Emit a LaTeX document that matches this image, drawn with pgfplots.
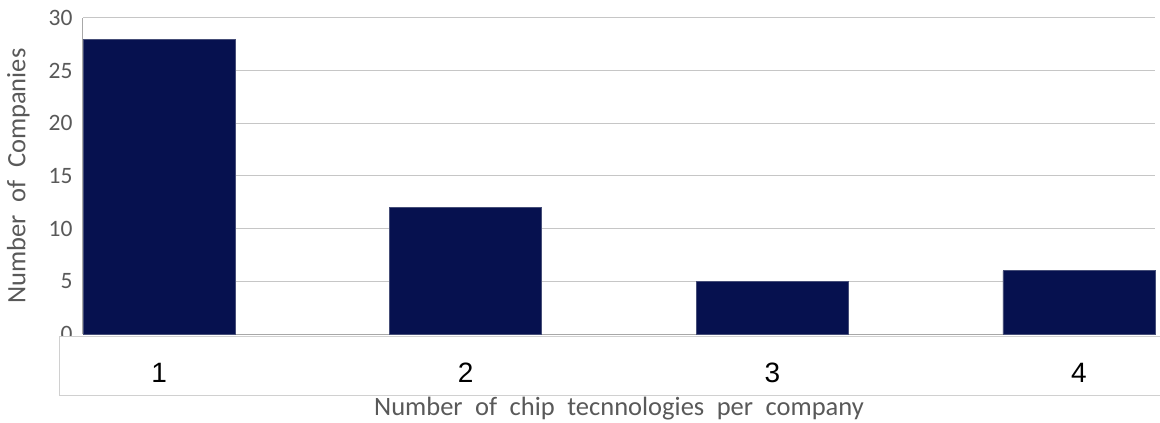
\documentclass[border=0pt]{standalone}
\usepackage{pgfplots}
\pgfplotsset{compat=1.18}
\usepackage{fontspec}
\setmainfont{Carlito}
\newfontfamily\arialfont{Liberation Sans}

\definecolor{barnavy}{HTML}{06114F}
\definecolor{baredge}{HTML}{464E78}
\definecolor{gridgray}{HTML}{C6C6C6}
\definecolor{axisgray}{HTML}{A8A8A8}
\definecolor{textgray}{HTML}{595959}
\definecolor{boxgray}{HTML}{D0D0D0}

% wide word spacing used in the axis titles
\newcommand\widewords[1]{{\spaceskip=12.5pt\relax #1}}

\begin{document}
\begin{tikzpicture}
% page extent
\path[use as bounding box] (-83pt,-89pt) rectangle (1077pt,334pt);
% framed band that holds the category labels
\fill[white] (-23pt,-3pt) rectangle (1090pt,-62pt);
\begin{axis}[
  scale only axis,
  width=1072pt, height=316pt,
  xmin=0.752, xmax=4.248,
  ymin=0, ymax=30,
  ybar, bar width=152pt,
  xtick={1,2,3,4},
  ytick={0,5,...,30},
  /pgf/number format/assume math mode=true,
  axis x line*=bottom,
  axis y line*=left,
  axis line style={axisgray, line width=1pt},
  major tick length=0pt,
  ymajorgrids,
  grid style={gridgray, line width=1pt},
  xticklabel style={font=\arialfont\fontsize{28}{28}\selectfont, text=black,
                    anchor=center, yshift=-38.7pt},
  yticklabel style={font=\fontsize{23.5}{23.5}\selectfont, text=textgray,
                    anchor=east, xshift=-7pt},
  xlabel={\widewords{Number of chip tecnnologies per company}},
  ylabel={\widewords{Number of Companies}},
  xlabel style={font=\fontsize{26.5}{26.5}\selectfont, text=textgray,
                at={([yshift=-81pt]axis description cs:0.5,0)}, anchor=base},
  ylabel style={font=\fontsize{26.5}{26.5}\selectfont, text=textgray,
                at={([xshift=-57.5pt]axis description cs:0,0.5)}, anchor=base, rotate=0},
  clip=false,
]
\addplot[fill=barnavy, draw=baredge, line width=0.8pt] coordinates {
  (1,28) (2,12) (3,5) (4,6)
};
\end{axis}
% the label band sits in front of the lower half of the zero label
\fill[white] (-22pt,-3.5pt) rectangle (-3pt,-20pt);
\draw[boxgray, line width=1pt] (-23pt,-3pt) rectangle (1090pt,-62pt);
\end{tikzpicture}
\end{document}
